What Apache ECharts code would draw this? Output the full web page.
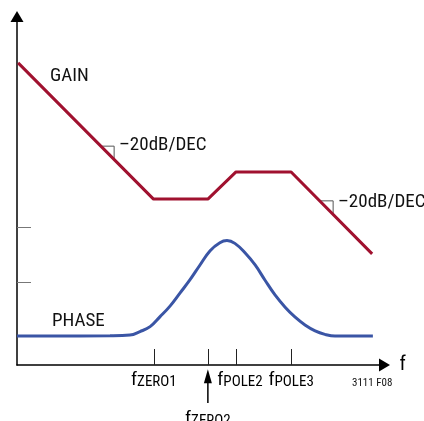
<!DOCTYPE html>
<html>
<head>
<meta charset="utf-8">
<script src="https://cdn.jsdelivr.net/npm/echarts@6/dist/echarts.min.js"></script>
<style>
html,body{margin:0;padding:0;background:#fff;}
#chart{width:424px;height:421px;}
</style>
</head>
<body>
<div id="chart"></div>
<script>
// ---- data (normalized log-frequency units on x, normalized level on y) ----
const xTickValues = [36.5, 50.9, 58.4, 73.1];
const xTickNames = ['ZERO1', 'ZERO2', 'POLE2', 'POLE3'];
const yTickValues = [23.8, 39.6];

const gainX = [0.3, 36.4, 50.9, 58.4, 73.1, 94.7];
const gainY = [86.7, 47.6, 47.6, 55.4, 55.4, 31.9];

const phaseX = [0, 24.8, 30.1, 32.8, 35.5, 38.1, 40.8, 43.5, 46.1, 48.8, 51.5, 54.1, 56.0, 58.1, 60.8, 63.5, 66.1, 68.8, 71.5, 74.1, 76.8, 79.5, 82.1, 84.8, 94.9];
const phaseY = [8.3, 8.4, 8.6, 9.6, 11.0, 13.8, 16.9, 20.7, 24.4, 28.7, 32.8, 35.1, 35.7, 34.9, 32.2, 28.7, 24.4, 20.1, 16.6, 13.8, 11.5, 9.8, 8.8, 8.3, 8.3];

// slope indicator marks (-20dB/DEC)
const slopeMark1X = [22.4, 25.9, 25.9];
const slopeMark1Y = [62.8, 62.8, 59.1];
const slopeMark2X = [80.8, 84.3, 84.3];
const slopeMark2Y = [47.1, 47.1, 43.0];

// pointer arrow under the f_ZERO2 tick (tail, head)
const zero2ArrowY = [-10.9, -3.2];

const FONT = "'Liberation Sans Narrow', 'Roboto Condensed', 'Liberation Sans', sans-serif";

function pairs(xs, ys) { return xs.map((x, i) => [x, ys[i]]); }

const chart = echarts.init(document.getElementById('chart'), null, {renderer: 'canvas'});

const option = {
  animation: false,
  backgroundColor: '#fff',
  grid: {left: 17, right: 39.5, top: 16.5, bottom: 56, containLabel: false, outerBoundsMode: 'none'},
  xAxis: {
    type: 'value', min: 0, max: 98,
    axisLine: {lineStyle: {color: '#000', width: 1.5}, symbol: ['none', 'triangle'], symbolSize: [13, 11]},
    axisTick: {inside: true, length: 16, customValues: xTickValues, lineStyle: {color: '#222', width: 1}},
    splitLine: {show: false},
    name: 'f', nameLocation: 'end', nameGap: 15,
    nameTextStyle: {fontSize: 20, fontFamily: FONT, color: '#000', verticalAlign: 'middle'},
    axisLabel: {
      customValues: xTickValues,
      margin: 5,
      color: '#000',
      fontFamily: FONT,
      formatter: function (v) {
        let idx = 0, best = 1e9;
        xTickValues.forEach((t, i) => { if (Math.abs(t - v) < best) { best = Math.abs(t - v); idx = i; } });
        const n = xTickNames[idx];
        if (n === 'ZERO2') return '{sp| }\n{f|f}{sub|' + n + '}';
        if (n === 'POLE2') return '{fp|f}{sub|' + n + '}';
        return '{f|f}{sub|' + n + '}';
      },
      rich: {
        f: {fontSize: 19, lineHeight: 20, verticalAlign: 'bottom', fontFamily: FONT, color: '#000'},
        fp: {fontSize: 19, lineHeight: 20, verticalAlign: 'bottom', fontFamily: FONT, color: '#000', padding: [0, 0, 0, 8]},
        sub: {fontSize: 15, lineHeight: 16, verticalAlign: 'bottom', fontFamily: FONT, color: '#000'},
        sp: {fontSize: 2, lineHeight: 39}
      }
    }
  },
  yAxis: {
    type: 'value', min: 0, max: 100,
    axisLine: {show: true, lineStyle: {color: '#000', width: 1.5}, symbol: ['none', 'triangle'], symbolSize: [13, 11]},
    axisTick: {show: true, inside: true, length: 14, customValues: yTickValues, lineStyle: {color: '#777', width: 1}},
    axisLabel: {show: false},
    splitLine: {show: false}
  },
  series: [
    {
      name: 'GAIN', type: 'line', data: pairs(gainX, gainY), showSymbol: false, symbol: 'none',
      lineStyle: {color: '#a0112f', width: 3}, z: 3
    },
    {
      name: 'PHASE', type: 'line', data: pairs(phaseX, phaseY), showSymbol: false, symbol: 'none',
      smooth: 0.4, lineStyle: {color: '#3a55a5', width: 3}, z: 3
    },
    {
      type: 'line', data: pairs(slopeMark1X, slopeMark1Y), symbol: 'none',
      lineStyle: {color: '#555', width: 1}, z: 2
    },
    {
      type: 'line', data: pairs(slopeMark2X, slopeMark2Y), symbol: 'none',
      lineStyle: {color: '#555', width: 1}, z: 2
    },
    {
      type: 'line', clip: false, silent: true, z: 4,
      showSymbol: true,
      lineStyle: {color: '#000', width: 1.5},
      itemStyle: {color: '#000'},
      data: [
        {value: [xTickValues[1], zero2ArrowY[0]], symbol: 'none'},
        {value: [xTickValues[1], zero2ArrowY[1]], symbol: 'triangle', symbolSize: [8, 14]}
      ]
    }
  ],
  graphic: [
    {type: 'text', x: 50, y: 76, style: {text: 'GAIN', font: '19px ' + FONT, fill: '#111', verticalAlign: 'middle'}},
    {type: 'text', x: 52, y: 321, style: {text: 'PHASE', font: '19px ' + FONT, fill: '#111', verticalAlign: 'middle'}},
    {type: 'text', x: 119, y: 145, style: {text: '–20dB/DEC', font: '19px ' + FONT, fill: '#111', verticalAlign: 'middle'}},
    {type: 'text', x: 338, y: 202, style: {text: '–20dB/DEC', font: '19px ' + FONT, fill: '#111', verticalAlign: 'middle'}},
    {type: 'text', x: 352, y: 383, style: {text: '3111 F08', font: '11px ' + FONT, fill: '#111', verticalAlign: 'middle'}}
  ]
};
chart.setOption(option);
</script>
</body>
</html>
